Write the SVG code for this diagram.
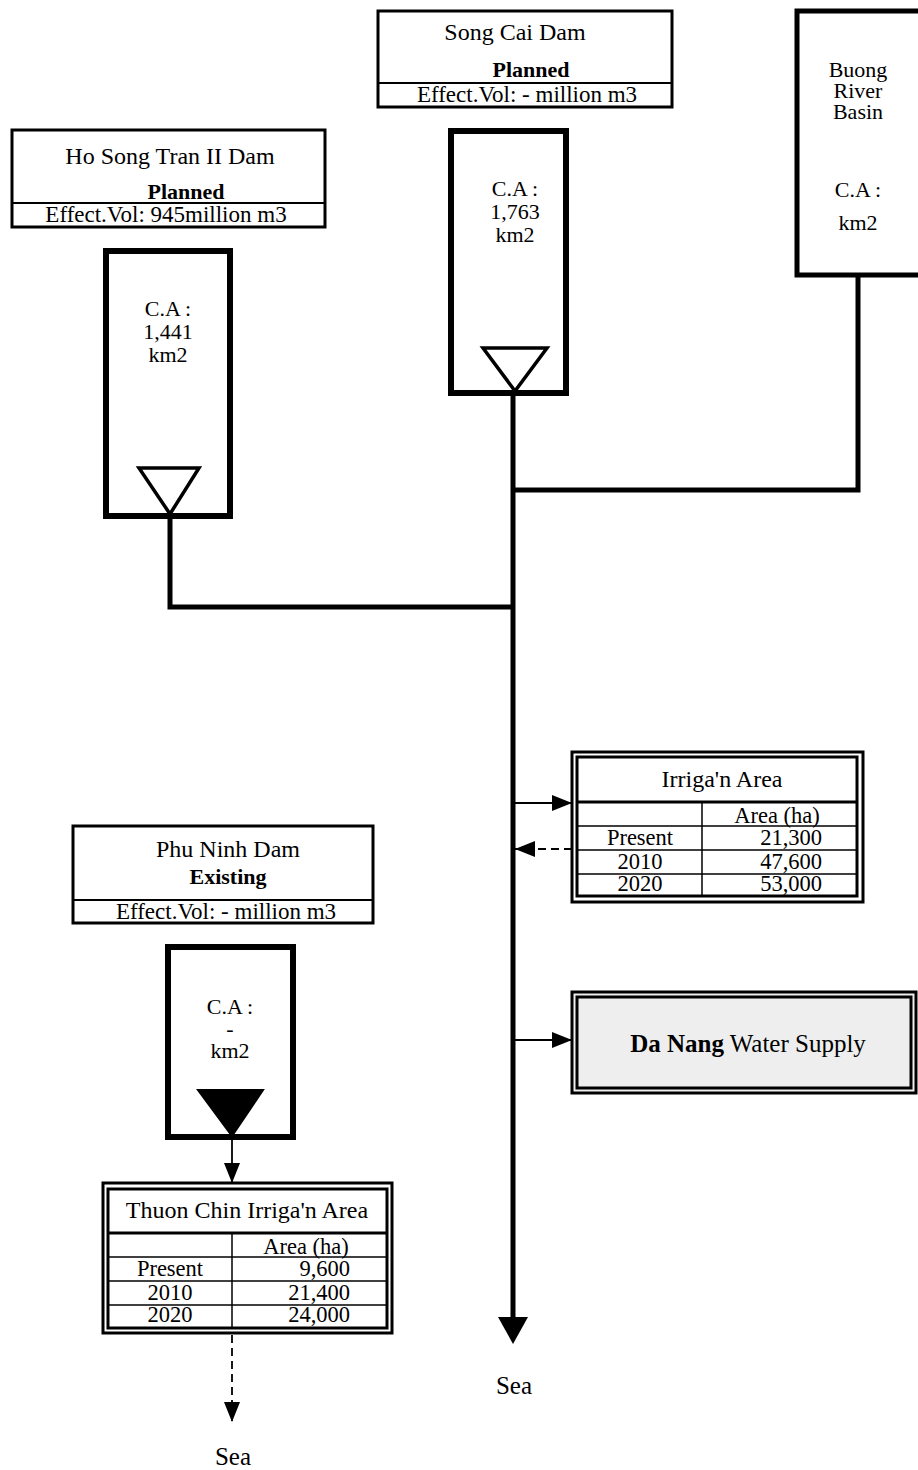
<svg xmlns="http://www.w3.org/2000/svg" width="918" height="1470" viewBox="0 0 918 1470">
<style>
text{font-family:"Liberation Serif","Times New Roman",serif;fill:#000;text-anchor:middle}
.t{font-size:24px}
.b{font-size:22px;font-weight:bold}
.e{font-size:23px}
.ca{font-size:22px}
.c{font-size:22.5px}
.r{text-anchor:end}
.box{fill:#fff;stroke:#000;stroke-width:3}
.thick{fill:#fff;stroke:#000;stroke-width:6}
.thin{stroke:#000;stroke-width:1.5;fill:none}
.div{stroke:#000;stroke-width:2;fill:none}
.river{stroke:#000;stroke-width:5;fill:none}
.tri{fill:#fff;stroke:#000;stroke-width:3.5;stroke-linejoin:miter}
.dbl{fill:none;stroke:#000;stroke-width:3}
.flow{stroke:#000;stroke-width:1.8;fill:none}
.dash{stroke:#000;stroke-width:1.8;fill:none;stroke-dasharray:8 5}
</style>
<defs>
<marker id="ah" viewBox="0 0 20 16" refX="20" refY="8" markerWidth="20" markerHeight="16" markerUnits="userSpaceOnUse" orient="auto">
<path d="M0,0 L20,8 L0,16 Z" fill="#000"/>
</marker>
<clipPath id="c1"><rect x="577" y="876" width="280" height="20"/></clipPath>
<clipPath id="c2"><rect x="108" y="1307" width="279" height="21"/></clipPath>
</defs>

<g id="connectors">
<polyline class="river" points="170,516 170,607 513,607"/>
<polyline class="river" points="858,277 858,490 513,490"/>
<line class="river" x1="513" y1="393" x2="513" y2="1320"/>
<path d="M498,1317 L528,1317 L513,1344 Z" fill="#000"/>
<line class="flow" x1="515" y1="803" x2="572" y2="803" marker-end="url(#ah)"/>
<line class="dash" x1="572" y1="849" x2="515" y2="849" marker-end="url(#ah)"/>
<line class="flow" x1="515" y1="1040" x2="572" y2="1040" marker-end="url(#ah)"/>
<line class="flow" x1="232" y1="1140" x2="232" y2="1183" marker-end="url(#ah)"/>
<line class="dash" x1="232" y1="1335" x2="232" y2="1422" marker-end="url(#ah)"/>
</g>

<g id="ho-song-tran-label">
<rect class="box" x="12" y="130" width="313" height="97"/>
<line class="div" x1="12" y1="203" x2="325" y2="203"/>
<text class="t" x="170" y="164">Ho Song Tran II Dam</text>
<text class="b" x="186" y="199">Planned</text>
<text class="e" x="166" y="222">Effect.Vol: 945million m3</text>
</g>

<g id="ho-song-tran-dam">
<rect class="thick" x="106" y="251" width="124" height="265"/>
<text class="ca" x="168" y="316">C.A :</text>
<text class="ca" x="168" y="339">1,441</text>
<text class="ca" x="168" y="362">km2</text>
<path class="tri" d="M139,468 L199,468 L170,514 Z"/>
</g>

<g id="song-cai-label">
<rect class="box" x="378" y="11" width="294" height="96"/>
<line class="div" x1="378" y1="83" x2="672" y2="83"/>
<text class="t" x="515" y="40">Song Cai Dam</text>
<text class="b" x="531" y="77">Planned</text>
<text class="e" x="527" y="102">Effect.Vol:  - million m3</text>
</g>

<g id="song-cai-dam">
<rect class="thick" x="451" y="131" width="115" height="262"/>
<text class="ca" x="515" y="196">C.A :</text>
<text class="ca" x="515" y="219">1,763</text>
<text class="ca" x="515" y="242">km2</text>
<path class="tri" d="M483,348 L547,348 L515,391 Z"/>
</g>

<g id="buong-river-basin">
<rect x="797" y="11" width="140" height="264" fill="#fff" stroke="#000" stroke-width="5"/>
<text class="ca" x="858" y="77">Buong</text>
<text class="ca" x="858" y="98">River</text>
<text class="ca" x="858" y="119">Basin</text>
<text class="ca" x="858" y="197">C.A :</text>
<text class="ca" x="858" y="230">km2</text>
</g>

<g id="irrigation-area">
<rect x="572" y="752" width="291" height="150" fill="#fff" stroke="#000" stroke-width="3"/>
<rect class="dbl" x="577" y="757" width="280" height="139"/>
<line x1="577" y1="802" x2="857" y2="802" stroke="#000" stroke-width="3"/>
<line class="thin" x1="577" y1="826" x2="857" y2="826"/>
<line class="thin" x1="577" y1="850" x2="857" y2="850"/>
<line class="thin" x1="577" y1="874" x2="857" y2="874"/>
<line class="thin" x1="702" y1="802" x2="702" y2="896"/>
<text class="t" x="722" y="787">Irriga'n Area</text>
<text class="c" x="777" y="823">Area (ha)</text>
<text class="c" x="640" y="845">Present</text>
<text class="c r" x="822" y="845">21,300</text>
<text class="c" x="640" y="869">2010</text>
<text class="c r" x="822" y="869">47,600</text>
<g clip-path="url(#c1)">
<text class="c" x="640" y="891">2020</text>
<text class="c r" x="822" y="891">53,000</text>
</g>
</g>

<g id="phu-ninh-label">
<rect class="box" x="73" y="826" width="300" height="97"/>
<line class="div" x1="73" y1="900" x2="373" y2="900"/>
<text class="t" x="228" y="857">Phu Ninh Dam</text>
<text class="b" x="228" y="884">Existing</text>
<text class="e" x="226" y="919">Effect.Vol:  - million m3</text>
</g>

<g id="phu-ninh-dam">
<rect class="thick" x="168" y="947" width="125" height="190"/>
<text class="ca" x="230" y="1014">C.A :</text>
<text class="ca" x="230" y="1036">-</text>
<text class="ca" x="230" y="1058">km2</text>
<path d="M198,1090 L263,1090 L232,1136 Z" fill="#000" stroke="#000" stroke-width="2"/>
</g>

<g id="da-nang-water-supply">
<rect x="572" y="992" width="344" height="101" fill="#eeeeee" stroke="#000" stroke-width="3"/>
<rect class="dbl" x="577" y="997" width="334" height="91"/>
<text x="748" y="1052" style="font-size:25px"><tspan font-weight="bold">Da Nang</tspan> Water Supply</text>
</g>

<g id="thuon-chin-irrigation">
<rect x="103" y="1183" width="289" height="150" fill="#fff" stroke="#000" stroke-width="3"/>
<rect class="dbl" x="108" y="1189" width="279" height="139"/>
<line x1="108" y1="1233" x2="387" y2="1233" stroke="#000" stroke-width="3"/>
<line class="thin" x1="108" y1="1257" x2="387" y2="1257"/>
<line class="thin" x1="108" y1="1281" x2="387" y2="1281"/>
<line class="thin" x1="108" y1="1305" x2="387" y2="1305"/>
<line class="thin" x1="232" y1="1233" x2="232" y2="1328"/>
<text class="t" x="247" y="1218">Thuon Chin Irriga'n Area</text>
<text class="c" x="306" y="1254">Area (ha)</text>
<text class="c" x="170" y="1276">Present</text>
<text class="c r" x="350" y="1276">9,600</text>
<text class="c" x="170" y="1300">2010</text>
<text class="c r" x="350" y="1300">21,400</text>
<g clip-path="url(#c2)">
<text class="c" x="170" y="1322">2020</text>
<text class="c r" x="350" y="1322">24,000</text>
</g>
</g>

<g id="sea-labels">
<text x="514" y="1394" style="font-size:25px">Sea</text>
<text x="233" y="1465" style="font-size:25px">Sea</text>
</g>
</svg>
